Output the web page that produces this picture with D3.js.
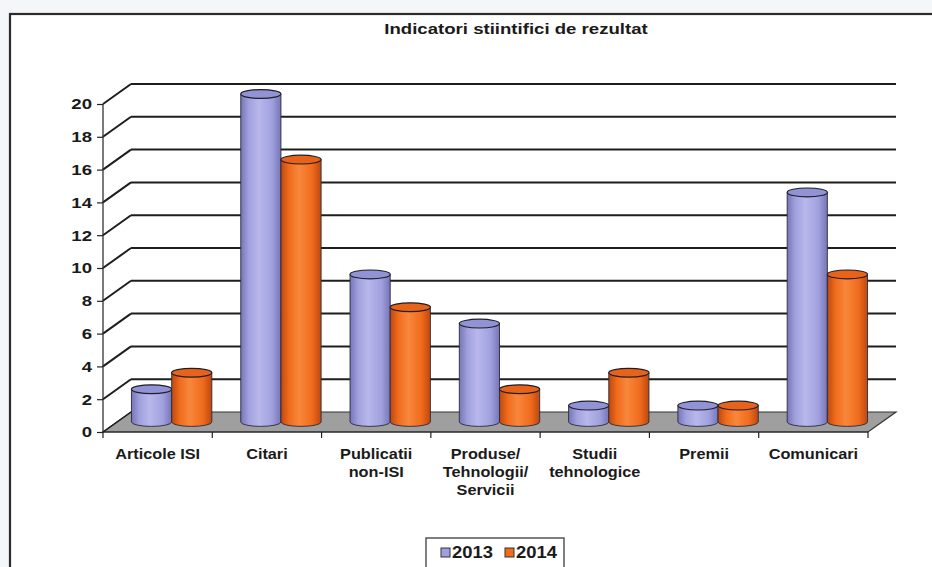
<!DOCTYPE html>
<html>
<head>
<meta charset="utf-8">
<script src="https://cdn.jsdelivr.net/npm/d3@7"></script>
<style>
  html, body { margin: 0; padding: 0; background: #f3f7fa; }
  svg { display: block; font-family: "Liberation Sans", Arial, sans-serif; }
</style>
</head>
<body>
<svg id="chart" width="932" height="567"></svg>
<script>
// Chart data
const title = "Indicatori stiintifici de rezultat";
const categories = [
  ["Articole ISI"],
  ["Citari"],
  ["Publicatii", "non-ISI"],
  ["Produse/", "Tehnologii/", "Servicii"],
  ["Studii", "tehnologice"],
  ["Premii"],
  ["Comunicari"]
];
const seriesNames = ["2013", "2014"];
const values2013 = [2, 20, 9, 6, 1, 1, 14];
const values2014 = [3, 16, 7, 2, 3, 1, 9];
const yTicks = [0, 2, 4, 6, 8, 10, 12, 14, 16, 18, 20];

const series = [values2013, values2014];
const FONT = "'Liberation Sans', Arial, sans-serif";
const STRETCH = 1.2; // wide bold lettering

const svg = d3.select("#chart");

// Places a horizontally widened text at (x, y)
function wideText(parent, x, y, size, anchor, stretch) {
  return parent.append("text")
    .attr("transform", `translate(${x},${y}) scale(${stretch || STRETCH},1)`)
    .attr("font-size", size).attr("font-weight", "bold")
    .attr("font-family", FONT).attr("fill", "#1a1a1a")
    .attr("text-anchor", anchor || "start");
}

// Outer frame
svg.append("rect")
  .attr("x", 10).attr("y", 14).attr("width", 940).attr("height", 580)
  .attr("fill", "#ffffff").attr("stroke", "#2b2b2b").attr("stroke-width", 2.2);

// Gradients for cylinder bodies
const defs = svg.append("defs");
const palettes = [
  { dark: "#7676b8", mid: "#a0a0de", light: "#b8b8ec", top: "#9292d6" },
  { dark: "#bc4810", mid: "#f06b1c", light: "#f8873c", top: "#e8621a" }
];
palettes.forEach((p, i) => {
  const g = defs.append("linearGradient").attr("id", "cyl" + i)
    .attr("x1", "0%").attr("x2", "100%").attr("y1", "0%").attr("y2", "0%");
  g.append("stop").attr("offset", "0%").attr("stop-color", p.dark);
  g.append("stop").attr("offset", "20%").attr("stop-color", p.mid);
  g.append("stop").attr("offset", "45%").attr("stop-color", p.light);
  g.append("stop").attr("offset", "78%").attr("stop-color", p.mid);
  g.append("stop").attr("offset", "100%").attr("stop-color", p.dark);
});

// Scales for the front plane
const x0 = 103, x1 = 868;
const x = d3.scaleBand().domain(d3.range(categories.length)).range([x0, x1]);
const y = d3.scaleLinear().domain([0, 20]).range([432, 104]);
const depthX = 28, depthY = -20;

// Floor
const floorY = y(0);
svg.append("path")
  .attr("d", `M${x0},${floorY} L${x1},${floorY} L${x1 + depthX},${floorY + depthY} L${x0 + depthX},${floorY + depthY} Z`)
  .attr("fill", "#9f9f9f").attr("stroke", "#333").attr("stroke-width", 1.2);

// Gridlines: back wall and left wall
const grid = svg.append("g").attr("stroke", "#1e1e1e").attr("stroke-width", 2).attr("fill", "none");
yTicks.forEach(t => {
  if (t === 0) return;
  const yy = y(t);
  grid.append("line")
    .attr("x1", x0 + depthX).attr("x2", x1 + depthX)
    .attr("y1", yy + depthY).attr("y2", yy + depthY);
  grid.append("line")
    .attr("x1", x0).attr("x2", x0 + depthX)
    .attr("y1", yy).attr("y2", yy + depthY);
});
// floor left edge
svg.append("line")
  .attr("x1", x0).attr("x2", x0 + depthX)
  .attr("y1", floorY).attr("y2", floorY + depthY)
  .attr("stroke", "#1e1e1e").attr("stroke-width", 1.5);

// Front axes
const axisG = svg.append("g");
axisG.append("line").attr("x1", x0).attr("x2", x0).attr("y1", y(20)).attr("y2", y(0))
  .attr("stroke", "#222").attr("stroke-width", 1.2);
axisG.append("line").attr("x1", x0).attr("x2", x1).attr("y1", y(0)).attr("y2", y(0))
  .attr("stroke", "#222").attr("stroke-width", 1.2);

// Y axis ticks and labels
const yAxis = d3.axisLeft(y).tickValues(yTicks).tickSize(6).tickPadding(5).tickSizeOuter(0);
const yg = svg.append("g").attr("transform", `translate(${x0},0)`).call(yAxis);
yg.select(".domain").remove();
yg.selectAll(".tick line").attr("stroke", "#222").attr("stroke-width", 1.2);
yg.selectAll(".tick text")
  .attr("x", -11 / STRETCH)
  .attr("transform", `scale(${STRETCH},1)`)
  .attr("font-size", 15.5).attr("font-weight", "bold").attr("fill", "#1a1a1a")
  .attr("font-family", FONT);

// X category ticks on the front edge
const bounds = d3.range(categories.length + 1).map(i => i === categories.length ? x1 : x(i));
svg.append("g").selectAll("line").data(bounds).join("line")
  .attr("x1", d => d).attr("x2", d => d)
  .attr("y1", y(0)).attr("y2", y(0) + 6)
  .attr("stroke", "#222").attr("stroke-width", 1.2);

// Category labels
const labels = svg.append("g");
categories.forEach((lines, i) => {
  const t = wideText(labels, x(i) + x.bandwidth() / 2, 459, 15.5, "middle", 1.05);
  lines.forEach((ln, j) => {
    t.append("tspan").attr("x", 0).attr("dy", j === 0 ? 0 : 18).text(ln);
  });
});

// Cylinders, placed at mid-depth
const inner = d3.scaleBand().domain(d3.range(series.length))
  .range([0, x.bandwidth()]).paddingInner(0).paddingOuter(0.36);
const rx = inner.bandwidth() / 2;
const ry = 4.4;
const bars = svg.append("g");
categories.forEach((_, i) => {
  series.forEach((vals, s) => {
    const cx = x(i) + inner(s) + rx + depthX / 2;
    const yb = y(0) + depthY / 2;
    const yt = y(vals[i]) + depthY / 2;
    const l = cx - rx, r = cx + rx;
    bars.append("path")
      .attr("d", `M${l},${yt} L${l},${yb} A${rx},${ry} 0 0 0 ${r},${yb} L${r},${yt} Z`)
      .attr("fill", `url(#cyl${s})`)
      .attr("stroke", "#2a2a3a").attr("stroke-width", 0.9);
    bars.append("ellipse")
      .attr("cx", cx).attr("cy", yt).attr("rx", rx).attr("ry", ry)
      .attr("fill", palettes[s].top)
      .attr("stroke", "#1e1e28").attr("stroke-width", 1.2);
  });
});

// Title
wideText(svg, 516, 34, 15.5, "middle").text(title);

// Legend
const legend = svg.append("g");
legend.append("rect")
  .attr("x", 426).attr("y", 538).attr("width", 138).attr("height", 40)
  .attr("fill", "#fff").attr("stroke", "#555").attr("stroke-width", 1.5);
const legendX = [441, 505];
seriesNames.forEach((name, s) => {
  legend.append("rect")
    .attr("x", legendX[s]).attr("y", 548).attr("width", 9).attr("height", 9)
    .attr("fill", palettes[s].mid).attr("stroke", "#333").attr("stroke-width", 1);
  wideText(legend, legendX[s] + 11, 558, 16, "start", 1.15).text(name);
});
</script>
</body>
</html>
